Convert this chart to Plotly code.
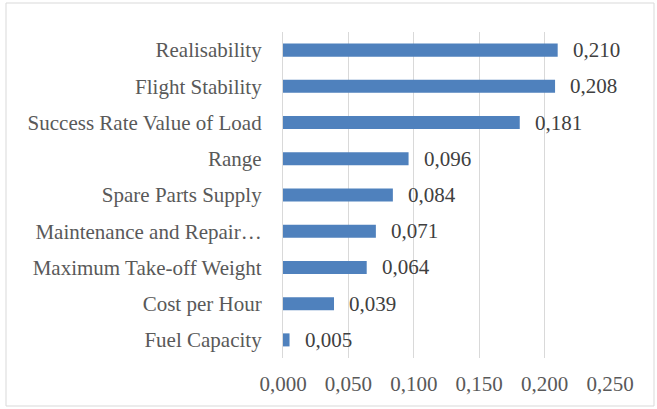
import plotly.graph_objects as go

categories = ["Realisability", "Flight Stability", "Success Rate Value of Load", "Range",
              "Spare Parts Supply", "Maintenance and Repair…", "Maximum Take-off Weight",
              "Cost per Hour", "Fuel Capacity"]
values = [0.210, 0.208, 0.181, 0.096, 0.084, 0.071, 0.064, 0.039, 0.005]
tick_vals = [0.0, 0.05, 0.10, 0.15, 0.20, 0.25]

cats = categories[::-1]
vals = values[::-1]

FONT = "Liberation Serif"
GRAY = "#595959"
FS = 21

fig = go.Figure()
fig.add_trace(go.Bar(
    x=vals, y=cats, orientation="h",
    marker=dict(color="#4f81bd", line=dict(width=0)),
    width=0.36,
    hoverinfo="skip",
))

for c, v in zip(cats, vals):
    fig.add_annotation(x=v, y=c, xref="x", yref="y", text=f"{v:.3f}".replace(".", ","),
                       showarrow=False, xanchor="left", xshift=13,
                       font=dict(family=FONT, size=FS, color="#404040"))

W, H = 657, 409
L, R, T, B = 283, 47, 32, 51
pw, ph = W - L - R, H - T - B

fig.add_shape(type="rect", xref="paper", yref="paper",
              x0=(6 - L) / pw, x1=(654 - L) / pw,
              y0=(H - B - 406) / ph, y1=(H - B - 3) / ph,
              line=dict(color="#d9d9d9", width=1), fillcolor="rgba(0,0,0,0)", layer="below")

fig.update_layout(
    width=W, height=H,
    margin=dict(l=L, r=R, t=T, b=B),
    paper_bgcolor="white", plot_bgcolor="white",
    separators=",.",
    showlegend=False,
    font=dict(family=FONT, size=FS, color=GRAY),
    xaxis=dict(range=[0, 0.25], tickvals=tick_vals, tickformat=".3f",
               showgrid=True, gridcolor="#d9d9d9", gridwidth=1.3,
               zeroline=False, showline=False, ticks="",
               ticklabelstandoff=11, tickfont=dict(family=FONT, size=FS, color=GRAY)),
    yaxis=dict(categoryorder="array", categoryarray=cats, range=[-0.5, len(cats) - 0.5],
               showgrid=False, zeroline=False, showline=True, linecolor="#d9d9d9", linewidth=1.3,
               ticks="", ticklabelstandoff=16,
               tickfont=dict(family=FONT, size=FS, color=GRAY)),
)

fig.write_html("out.html")
